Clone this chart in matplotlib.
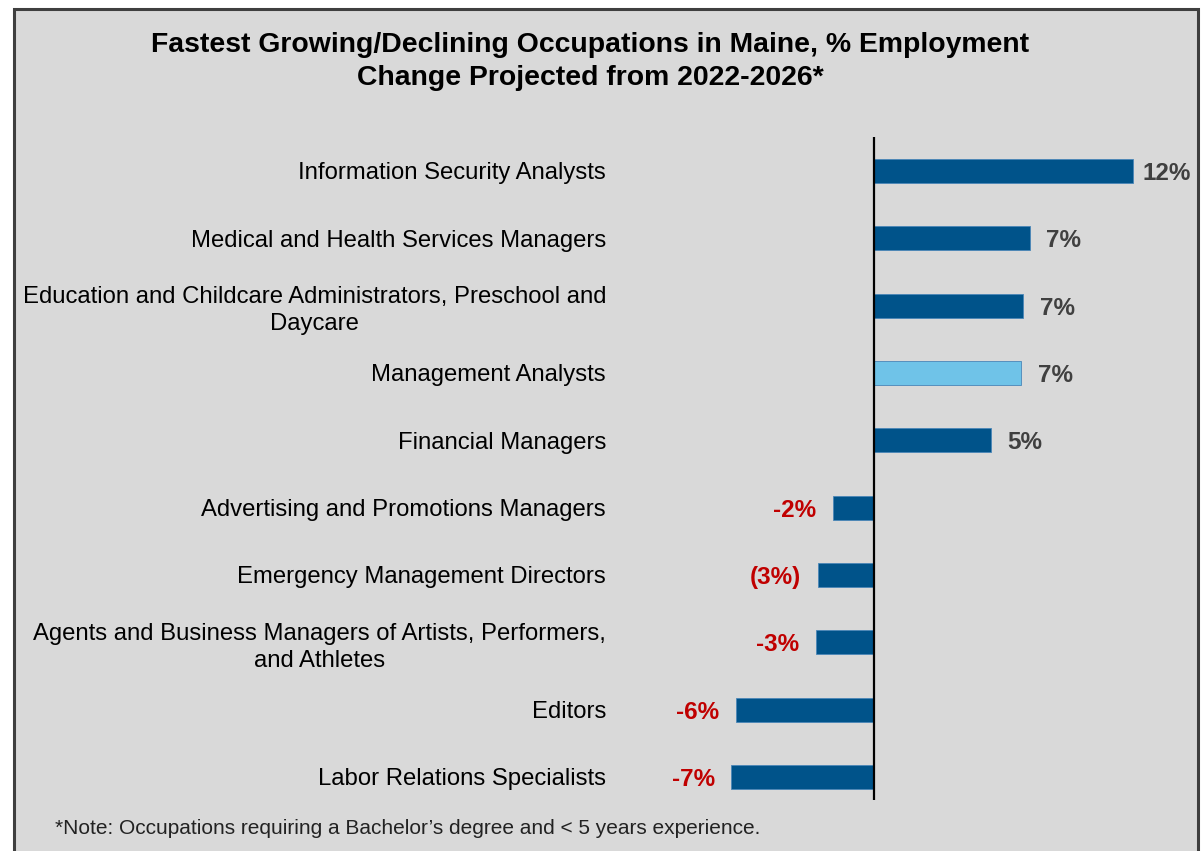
import matplotlib
matplotlib.use("Agg")
import matplotlib.pyplot as plt
from matplotlib.patches import Rectangle

plt.rcParams['font.family'] = ['Liberation Sans', 'DejaVu Sans']

# Data
occupations = [
    "Information Security Analysts",
    "Medical and Health Services Managers",
    "Education and Childcare Administrators, Preschool and\nDaycare",
    "Management Analysts",
    "Financial Managers",
    "Advertising and Promotions Managers",
    "Emergency Management Directors",
    "Agents and Business Managers of Artists, Performers,\nand Athletes",
    "Editors",
    "Labor Relations Specialists",
]
pct_change = [12.0, 7.2, 6.9, 6.8, 5.4, -1.9, -2.6, -2.7, -6.4, -6.6]
highlighted = [False, False, False, True, False, False, False, False, False, False]
paren_negative = [False, False, False, False, False, False, True, False, False, False]

title = ("Fastest Growing/Declining Occupations in Maine, % Employment\n"
         "Change Projected from 2022-2026*")
note = "*Note: Occupations requiring a Bachelor\u2019s degree and < 5 years experience."

W, H = 1204, 851
DPI = 100
fig = plt.figure(figsize=(W / DPI, H / DPI), dpi=DPI)
fig.patch.set_facecolor('white')

# Grey panel with dark border (bottom edge runs off the canvas)
panel = Rectangle((14 / W, -0.05), (1198 - 14) / W, 1.05 - 9 / H,
                  transform=fig.transFigure, facecolor='#D9D9D9',
                  edgecolor='#3F3F3F', linewidth=2.2, zorder=-10)
fig.patches.append(panel)

# Axes placed in pixel terms
ax_left, ax_right = 620, 1190
ax_top, ax_bottom = 137, 800
ax = fig.add_axes([ax_left / W, 1 - ax_bottom / H,
                   (ax_right - ax_left) / W, (ax_bottom - ax_top) / H])
ax.set_facecolor('none')
ax.set_zorder(5)

px_per_unit = 21.6
zero_px = 874
ax.set_xlim((ax_left - zero_px) / px_per_unit, (ax_right - zero_px) / px_per_unit)
spacing = 67.33
first_center = 171
ax.set_ylim((ax_bottom - first_center) / spacing, (ax_top - first_center) / spacing)

dark_blue = '#00538A'
light_blue = '#6FC3E8'
ypos = list(range(len(occupations)))
colors = [light_blue if h else dark_blue for h in highlighted]
ax.barh(ypos, pct_change, height=0.36, color=colors,
        edgecolor='#4A86B8', linewidth=0.6, zorder=2)

ax.axvline(0, color='black', linewidth=1.6, zorder=3)

for sp in ax.spines.values():
    sp.set_visible(False)
ax.set_xticks([])
ax.set_yticks(ypos)
ax.set_yticklabels(occupations, fontsize=17.2, color='black')
ax.tick_params(axis='y', length=0, pad=10)
for lbl in ax.get_yticklabels():
    lbl.set_multialignment('center')
    lbl.set_linespacing(1.3)

max_val = max(pct_change)
for y, v, paren in zip(ypos, pct_change, paren_negative):
    r = round(v)
    if v >= 0:
        text = f"{r:d}%"
        off = 7 if v == max_val else 12
        ax.annotate(text, (v, y), xytext=(off, 0), textcoords='offset points',
                    ha='left', va='center_baseline', fontsize=17.5,
                    fontweight='bold', color='#404040', annotation_clip=False)
    else:
        text = f"({abs(r):d}%)" if paren else f"{r:d}%"
        ax.annotate(text, (v, y), xytext=(-12, 0), textcoords='offset points',
                    ha='right', va='center_baseline', fontsize=17.5,
                    fontweight='bold', color='#C00000', annotation_clip=False)

fig.text(590 / W, 1 - 61.5 / H, title, ha='center', va='center',
         fontsize=20.4, fontweight='bold', color='black', linespacing=1.32)
fig.text(55 / W, 1 - 829 / H, note, ha='left', va='center',
         fontsize=15, color='#222222')

fig.savefig('out.png', dpi=DPI)
